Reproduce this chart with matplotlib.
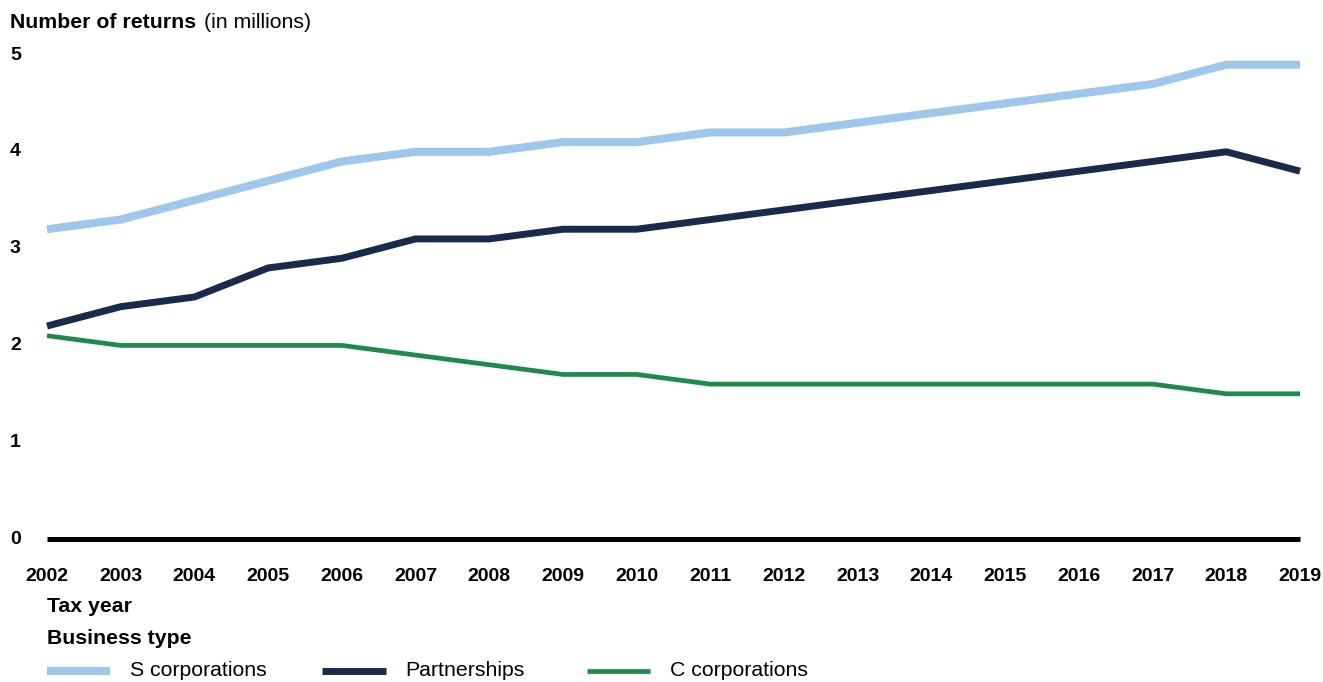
import matplotlib.pyplot as plt
from matplotlib.lines import Line2D

plt.rcParams['font.family'] = ['Liberation Sans', 'DejaVu Sans']

# data (millions of returns)
years = list(range(2002, 2020))
s_corp = [3.2, 3.3, 3.5, 3.7, 3.9, 4.0, 4.0, 4.1, 4.1, 4.2, 4.2, 4.3, 4.4, 4.5, 4.6, 4.7, 4.9, 4.9]
partnerships = [2.2, 2.4, 2.5, 2.8, 2.9, 3.1, 3.1, 3.2, 3.2, 3.3, 3.4, 3.5, 3.6, 3.7, 3.8, 3.9, 4.0, 3.8]
c_corp = [2.1, 2.0, 2.0, 2.0, 2.0, 1.9, 1.8, 1.7, 1.7, 1.6, 1.6, 1.6, 1.6, 1.6, 1.6, 1.6, 1.5, 1.5]
y_ticks = [0, 1, 2, 3, 4, 5]
series_names = ["S corporations", "Partnerships", "C corporations"]
colors = ["#9DC8EB", "#1A2A4B", "#1E8A4C"]
line_w = [5.8, 5.0, 3.4]

W, H = 1323, 682
fig = plt.figure(figsize=(W / 100, H / 100), dpi=100)
ax = fig.add_axes([47 / W, (H - 539) / H, (1300 - 47) / W, (539 - 55) / H])

# zero line
ax.plot(years, [0] * len(years), color="black", lw=3.6, clip_on=False, solid_capstyle="butt")
for vals, c, lw in zip([s_corp, partnerships, c_corp], colors, line_w):
    ax.plot(years, vals, color=c, lw=lw, clip_on=False, solid_capstyle="butt")

ax.set_xlim(2002, 2019)
ax.set_ylim(0, 5)
for s in ax.spines.values():
    s.set_visible(False)
ax.tick_params(length=0)
ax.set_xticks(years)
ax.set_xticklabels([str(y) for y in years], fontsize=14, fontweight="bold")
ax.set_yticks(y_ticks)
ax.set_yticklabels([])
ax.tick_params(axis="x", pad=21)


def fy(py):
    return (H - py) / H


# y labels sit flush left, in figure pixels
for v in y_ticks:
    py = 539 - v * (539 - 55) / 5
    fig.text(10 / W, fy(py), str(v), fontsize=14, fontweight="bold", va="center", ha="left")

fig.text(10 / W, fy(22), "Number of returns", fontsize=15.3, fontweight="bold", va="center", ha="left")
fig.text(204 / W, fy(22), "(in millions)", fontsize=15.3, va="center", ha="left")

fig.text(47 / W, fy(606), "Tax year", fontsize=15.3, fontweight="bold", va="center", ha="left")
fig.text(47 / W, fy(639), "Business type", fontsize=15.3, fontweight="bold", va="center", ha="left")

leg_x = [(47, 110, 130), (322, 386, 405), (587, 650, 670)]
for name, c, lw, (x0, x1, xt) in zip(series_names, colors, line_w, leg_x):
    fig.add_artist(Line2D([x0 / W, x1 / W], [fy(671), fy(671)], color=c, lw=lw,
                          transform=fig.transFigure, solid_capstyle="butt"))
    fig.text(xt / W, fy(671), name, fontsize=15.3, va="center", ha="left")

fig.savefig("out.png", dpi=100)
